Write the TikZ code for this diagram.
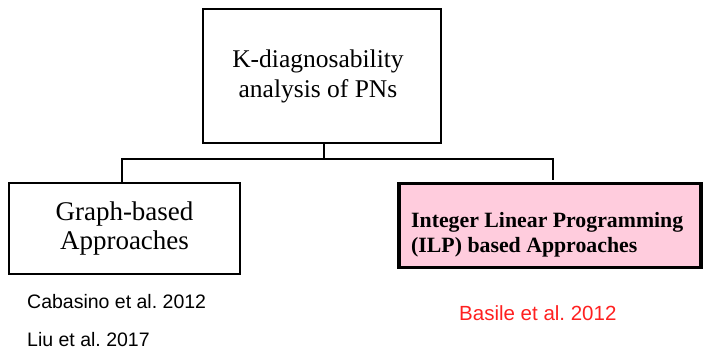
\documentclass[tikz,border=0pt]{standalone}
\usepackage{fontspec}
\setmainfont{Liberation Serif}
\newfontfamily\arialf{Liberation Sans}
\definecolor{pinkfill}{HTML}{FFCCDD}
\definecolor{refred}{HTML}{FF2020}
\frenchspacing
\begin{document}
\begin{tikzpicture}[x=1pt,y=-1pt,
  boxstyle/.style={draw=black, line width=2.6pt, rectangle, inner sep=0pt, align=center, line join=miter},
  conn/.style={draw=black, line width=2.6pt, line join=miter},
  plain/.style={inner sep=0pt, anchor=base west}]
\useasboundingbox (0,0) rectangle (704,349);
\node[boxstyle, minimum width=238pt, minimum height=134pt,
  font=\fontsize{25.5}{30}\selectfont] (top) at (322,76)
  {K-diagnosability\hspace*{8pt}\\analysis of PNs\hspace*{8pt}};
\node[boxstyle, minimum width=231pt, minimum height=91pt,
  font=\fontsize{27}{29}\selectfont] (left) at (124.5,228.5)
  {Graph-based\\Approaches};
\node[boxstyle, fill=pinkfill, line width=3.6pt, minimum width=302pt, minimum height=84pt] (right) at (550,225.5) {};
\node[plain, font=\fontsize{21.8}{25}\selectfont\bfseries] (ilp) at (411,227)
  {Integer Linear Programming};
\node[plain, font=\fontsize{21.8}{25}\selectfont\bfseries] (ilp2) at (411,252)
  {(ILP) based Approaches};
\coordinate (j) at (324,159);
\coordinate (lj) at (122,159);
\coordinate (rj) at (553,159);
\coordinate (rend) at (553,180);
\draw[conn] (j |- top.south) -- (j);
\draw[conn] (lj |- left.north) -- (lj) -- (rj) -- (rend);
\node[plain, font=\arialf\fontsize{19.5}{22}\selectfont] (cab) at (27,308) {Cabasino et al. 2012};
\node[plain, font=\arialf\fontsize{19.5}{22}\selectfont] (liu) at (27,346) {Liu et al. 2017};
\node[plain, text=refred, font=\arialf\fontsize{20.5}{22}\selectfont] (bas) at (459,320) {Basile et al. 2012};
\end{tikzpicture}
\end{document}
